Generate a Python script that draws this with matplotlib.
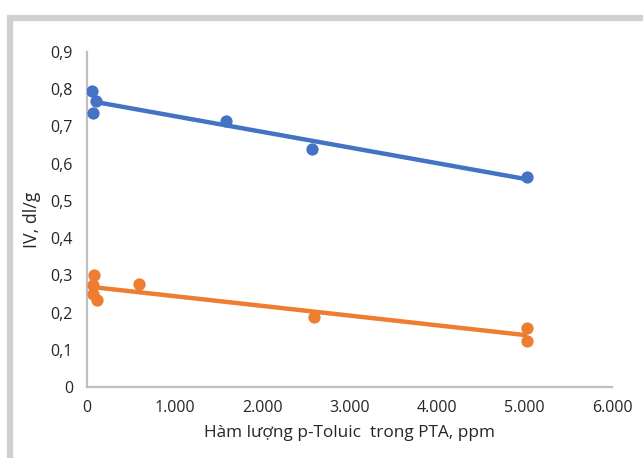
import numpy as np
import matplotlib
matplotlib.use("Agg")
from matplotlib import pyplot as plt
from matplotlib.ticker import FuncFormatter
from matplotlib.patches import Rectangle

# Data (ppm p-Toluic, IV dl/g)
blue_x = [60, 100, 70, 1590, 2570, 5030]
blue_y = [0.796, 0.769, 0.737, 0.715, 0.640, 0.565]
orange_x = [80, 70, 70, 110, 590, 2590, 5030, 5030]
orange_y = [0.301, 0.274, 0.250, 0.234, 0.277, 0.188, 0.159, 0.124]

x_ticks = [0, 1000, 2000, 3000, 4000, 5000, 6000]
y_ticks = [0, 0.1, 0.2, 0.3, 0.4, 0.5, 0.6, 0.7, 0.8, 0.9]

BLUE = "#4472C4"
ORANGE = "#ED7D31"
TXT = "#262626"

plt.rcParams["font.family"] = ["Open Sans", "DejaVu Sans"]

fig = plt.figure(figsize=(6.43, 4.58), dpi=100)
ax = fig.add_axes([0.1353, 0.155, 0.817, 0.7315])

# outer frame (grey border at top and left)
fig.patches.append(Rectangle((9.5 / 643, -0.1), 1.2, (458 - 18) / 458 + 0.1,
                             transform=fig.transFigure, fill=False,
                             edgecolor="#d0d0d0", linewidth=4.5, zorder=0))

for xs, ys, c in [(blue_x, blue_y, BLUE), (orange_x, orange_y, ORANGE)]:
    ax.scatter(xs, ys, s=78, color=c, zorder=3, linewidths=0)
    k, b = np.polyfit(xs, ys, 1)
    lx = np.array([min(xs), max(xs)])
    ax.plot(lx, k * lx + b, color=c, linewidth=3.2, zorder=2,
            solid_capstyle="butt")

ax.set_xlim(0, 6000)
ax.set_ylim(0, 0.9)
ax.set_xticks(x_ticks)
ax.set_yticks(y_ticks)
ax.xaxis.set_major_formatter(FuncFormatter(lambda v, p: f"{int(v):,}".replace(",", ".")))
ax.yaxis.set_major_formatter(FuncFormatter(lambda v, p: "0" if v == 0 else f"{v:.1f}".replace(".", ",")))
ax.tick_params(length=0, labelsize=11.5, colors=TXT, pad=9)
ax.tick_params(axis="y", pad=10)

for s in ["top", "right"]:
    ax.spines[s].set_visible(False)
for s in ["left", "bottom"]:
    ax.spines[s].set_color("#bfbfbf")
    ax.spines[s].set_linewidth(1.6)

ax.set_xlabel("Hàm lượng p-Toluic  trong PTA, ppm", fontsize=12.4, color=TXT, labelpad=7)
ax.set_ylabel("IV, dl/g", fontsize=12.8, color=TXT, labelpad=7)

fig.savefig("out.png", dpi=100)
